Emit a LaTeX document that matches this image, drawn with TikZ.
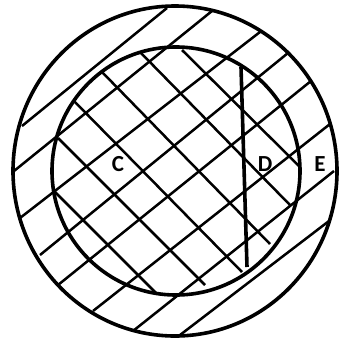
\documentclass[tikz,border=0pt]{standalone}
\usepackage{fontspec}
\setmainfont{Carlito}
\usepackage{tikz}

\begin{document}
\begin{tikzpicture}[x=1pt,y=-1pt,
  rim/.style={line width=3.6pt},
  hatch/.style={line width=2.5pt},
  chord/.style={line width=3.6pt},
  lab/.style={font=\bfseries\fontsize{23}{23}\selectfont}]
\useasboundingbox (0,0) rectangle (340,338);

% Circles
\draw[rim] (175,171) ellipse [x radius=162, y radius=165];
\draw[rim] (176,171) circle [radius=124];

% Hatching over the whole disc
\draw[hatch] (22,126) -- (167,8);
\draw[hatch] (14,171) -- (212,11);
\draw[hatch] (20,218) -- (260,32);
\draw[hatch] (40,255) -- (288,53);
\draw[hatch] (58,285) -- (311,81);
\draw[hatch] (93,311) -- (330,124);
\draw[hatch] (133,331) -- (334,171);
\draw[hatch] (180,335) -- (329,221);

% Cross hatching in the inner circle
\draw[hatch] (55,192) -- (156,293);
\draw[hatch] (58,138) -- (205,285);
\draw[hatch] (74,101) -- (242,272);
\draw[hatch] (102,72) -- (270,244);
\draw[hatch] (141,53) -- (290,205);
\draw[hatch] (182,50) -- (299,166);

% Chord
\draw[chord] (241,67) -- (247,267);

% Labels
\node[lab] (C) at (118,164) {C};
\node[lab] (D) at (265,164) {D};
\node[lab] (E) at (320,164) {E};
\end{tikzpicture}
\end{document}
